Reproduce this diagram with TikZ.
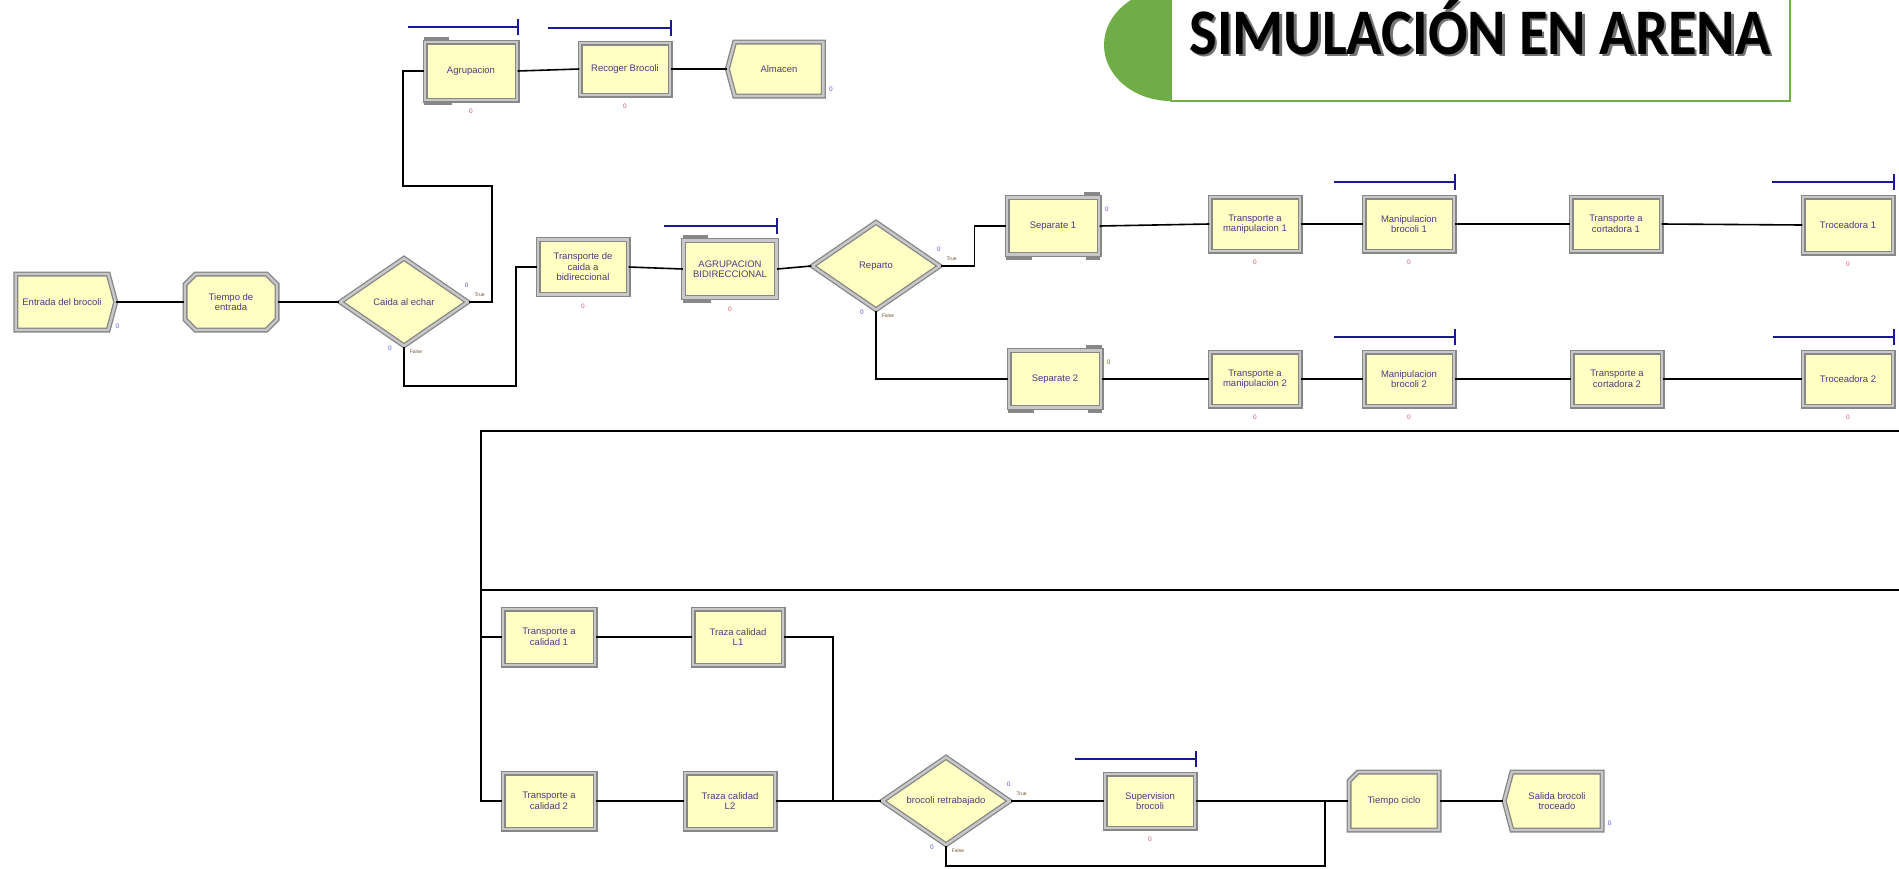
\documentclass[tikz,border=0pt]{standalone}
\usepackage{fontspec}
\setmainfont{Liberation Sans}
\newfontfamily\carlitofont{Carlito}
\usetikzlibrary{shapes.geometric,shapes.misc,shapes.symbols}
\definecolor{boxyel}{RGB}{255,255,195}
\definecolor{bordD}{RGB}{135,135,135}
\definecolor{bordL}{RGB}{200,200,200}
\definecolor{txtc}{RGB}{85,55,130}
\definecolor{cntred}{RGB}{215,90,110}
\definecolor{cntblue}{RGB}{90,90,235}
\definecolor{resblue}{RGB}{25,25,150}
\definecolor{tgreen}{RGB}{112,173,71}
\definecolor{tflab}{RGB}{110,80,40}
\newcommand\mkresbar[2]{%
  \draw[resbar] ([xshift=-#2pt,yshift=14pt]#1.north east) -- ([yshift=14pt]#1.north east);
  \draw[resbar] ([yshift=6pt]#1.north east) -- ([yshift=22pt]#1.north east);}
% stepped border of Batch modules
\newcommand\mkbatch[1]{%
  \fill[bordD] ([yshift=1pt]#1.north west) rectangle ([xshift=25pt,yshift=4.5pt]#1.north west);
  \fill[bordD] ([yshift=-1pt]#1.south west) rectangle ([xshift=28pt,yshift=-4.5pt]#1.south west);}
% stepped border of Separate modules
\newcommand\mkseparate[1]{%
  \fill[bordD] ([yshift=1pt]#1.north east) rectangle ([xshift=-16pt,yshift=4.5pt]#1.north east);
  \fill[bordD] ([yshift=-1pt]#1.south west) rectangle ([xshift=26pt,yshift=-4.5pt]#1.south west);
  \fill[bordD] ([yshift=-1pt]#1.south east) rectangle ([xshift=-14pt,yshift=-4.5pt]#1.south east);}
\begin{document}
\begin{tikzpicture}[x=1pt,y=-1pt,
  mod/.style={draw=bordD, double=bordL, double distance=2.4pt, line width=1.3pt,
    fill=boxyel, text=txtc, font=\fontsize{9.5}{10.5}\selectfont, align=center, inner sep=1pt},
  procbox/.style={mod, rectangle, minimum width=90pt, minimum height=54pt},
  decbox/.style={mod, diamond, minimum width=128pt, minimum height=88pt, inner sep=0pt},
  createbox/.style={mod, signal, signal to=east, signal pointer angle=150, minimum width=100pt, minimum height=56pt},
  dispbox/.style={mod, signal, signal to=west, signal pointer angle=150, minimum width=96pt, minimum height=54pt},
  delaybox/.style={mod, chamfered rectangle, chamfered rectangle xsep=7pt, minimum width=92pt, minimum height=56pt},
  recbox/.style={mod, chamfered rectangle, chamfered rectangle corners=north west, chamfered rectangle xsep=10pt, minimum width=90pt, minimum height=58pt},
  conn/.style={line width=1.6pt, black},
  bigline/.style={line width=1.4pt, black},
  resbar/.style={line width=1.8pt, resblue},
  cnt/.style={font=\fontsize{6.5}{6.5}\selectfont, inner sep=0pt},
  cr/.style={cnt, text=cntred},
  cb/.style={cnt, text=cntblue},
  tf/.style={font=\fontsize{5}{5}\selectfont, inner sep=0pt, text=tflab}]
\clip (0,0) rectangle (1899,868);
\path[use as bounding box, fill=white] (0,0) rectangle (1899,868);

% title
\fill[tgreen] (1171,45) ellipse [x radius=67, y radius=56];
\draw[tgreen, line width=1.6pt, fill=white] (1171,-10) rectangle (1790,101);
\node[anchor=base, xscale=0.9, text=black!55, font=\fontsize{65}{70}\selectfont\carlitofont\bfseries] (titsh) at (1482.5,56.5) {SIMULACIÓN EN ARENA};
\node[anchor=base, xscale=0.9, text=black, font=\fontsize{65}{70}\selectfont\carlitofont\bfseries] (tit) at (1480,54) {SIMULACIÓN EN ARENA};

% row A
\node[createbox] (ent) at (62,302) {Entrada del brocoli};
\node[delaybox] (tde) at (231,302) {Tiempo de\\entrada};
\node[decbox] (caida) at (404,302) {Caida al echar};
\node[procbox, minimum width=92pt, minimum height=58pt] (agr) at (471,71) {Agrupacion};
\node[procbox, minimum height=52pt] (rec) at (625,69) {Recoger Brocoli};
\node[dispbox] (alm) at (779,69) {Almacen};
\node[procbox, minimum height=55pt] (tcb) at (583,267) {Transporte de\\caida a\\bidireccional};
\node[procbox, minimum width=93pt, minimum height=57pt] (agb) at (730,269) {AGRUPACION\\BIDIRECCIONAL};
\node[decbox] (rep) at (876,266) {Reparto};
\node[procbox, minimum width=92pt, minimum height=57pt] (sep1) at (1053,226) {Separate 1};
\node[procbox, minimum width=92pt, minimum height=57pt] (sep2) at (1055,379) {Separate 2};
\node[procbox] (tm1) at (1255,224) {Transporte a\\manipulacion 1};
\node[procbox] (tm2) at (1255,379) {Transporte a\\manipulacion 2};
\node[procbox] (mb1) at (1409,224) {Manipulacion\\brocoli 1};
\node[procbox] (mb2) at (1409,379) {Manipulacion\\brocoli 2};
\node[procbox] (tc1) at (1616,224) {Transporte a\\cortadora 1};
\node[procbox] (tc2) at (1617,379) {Transporte a\\cortadora 2};
\node[procbox, minimum height=56pt] (tr1) at (1848,225) {Troceadora 1};
\node[procbox] (tr2) at (1848,379) {Troceadora 2};

% lower section
\node[procbox, minimum width=92pt, minimum height=56pt] (tca1) at (549,637) {Transporte a\\calidad 1};
\node[procbox, minimum width=92pt, minimum height=56pt] (tca2) at (549,801) {Transporte a\\calidad 2};
\node[procbox, minimum height=56pt] (tl1) at (738,637) {Traza calidad\\L1};
\node[procbox, minimum height=56pt] (tl2) at (730,801) {Traza calidad\\L2};
\node[decbox] (rr) at (946,801) {brocoli retrabajado};
\node[procbox] (sup) at (1150,801) {Supervision\\brocoli};
\node[recbox] (tcic) at (1394,801) {Tiempo ciclo};
\node[dispbox, minimum width=98pt, minimum height=58pt] (sal) at (1557,801) {Salida brocoli\\troceado};

% module details
\mkbatch{agr}
\mkbatch{agb}
\mkseparate{sep1}
\mkseparate{sep2}

% resource bars
\mkresbar{agr}{110}
\mkresbar{rec}{123}
\mkresbar{agb}{113}
\mkresbar{mb1}{121}
\mkresbar{mb2}{121}
\mkresbar{tr1}{122}
\mkresbar{tr2}{121}
\mkresbar{sup}{121}

% coordinates for routing
\coordinate (t1) at (492,186);
\coordinate (t2) at (403,186);
\coordinate (f1) at (516,386);
\coordinate (e1) at (1899,431);
\coordinate (k1) at (481,431);
\coordinate (e2) at (1899,590);
\coordinate (k2) at (481,590);
\coordinate (m1) at (833,801);
\coordinate (j1) at (1325,801);
\coordinate (j2) at (1325,866);

% connectors
\draw[conn] (ent.east) -- (tde.west);
\draw[conn] (tde.east) -- (caida.west);
\draw[conn] (caida.east) -| (t1) -- (t2) |- (agr.west);
\draw[conn] (caida.south) |- (f1) |- (tcb.west);
\draw[conn] (agr.east) -- (rec.west);
\draw[conn] (rec.east) -- (alm.west);
\draw[conn] (tcb.east) -- (agb.west);
\draw[conn] (agb.east) -- (rep.west);
\draw[conn] (rep.east) -- ++(34,0) |- (sep1.west);
\draw[conn] (rep.south) |- (sep2.west);
\draw[conn] (sep1.east) -- (tm1.west);
\draw[conn] (tm1.east) -- (mb1.west);
\draw[conn] (mb1.east) -- (tc1.west);
\draw[conn] (tc1.east) -- (tr1.west);
\draw[conn] (sep2.east) -- (tm2.west);
\draw[conn] (tm2.east) -- (mb2.west);
\draw[conn] (mb2.east) -- (tc2.west);
\draw[conn] (tc2.east) -- (tr2.west);
\draw[bigline] (e1) -- (k1) |- (tca2.west);
\draw[bigline] (e2) -- (k2);
\draw[bigline] (k2) |- (tca1.west);
\draw[conn] (tca1.east) -- (tl1.west);
\draw[conn] (tca2.east) -- (tl2.west);
\draw[conn] (tl1.east) -| (m1);
\draw[conn] (tl2.east) -- (m1) -- (rr.west);
\draw[conn] (rr.east) -- (sup.west);
\draw[conn] (sup.east) -- (tcic.west);
\draw[conn] (rr.south) |- (j2) -- (j1);
\draw[conn] (tcic.east) -- (sal.west);

% counters
\node[cb] (ent-c) at ([xshift=1pt,yshift=-24pt]ent.east) {0};
\node[cb] (caida-ct) at ([xshift=-2pt,yshift=17pt]caida.east) {0};
\node[cb] (caida-cf) at ([xshift=-14pt,yshift=-2pt]caida.south) {0};
\node[tf] (caida-t) at ([xshift=11pt,yshift=7pt]caida.east) {True};
\node[tf] (caida-f) at ([xshift=12pt,yshift=-5pt]caida.south) {False};
\node[cb] (rep-ct) at ([xshift=-2pt,yshift=17pt]rep.east) {0};
\node[cb] (rep-cf) at ([xshift=-14pt,yshift=-2pt]rep.south) {0};
\node[tf] (rep-t) at ([xshift=11pt,yshift=7pt]rep.east) {True};
\node[tf] (rep-f) at ([xshift=12pt,yshift=-5pt]rep.south) {False};
\node[cb] (rr-ct) at ([xshift=-2pt,yshift=17pt]rr.east) {0};
\node[cb] (rr-cf) at ([xshift=-14pt,yshift=-2pt]rr.south) {0};
\node[tf] (rr-t) at ([xshift=11pt,yshift=7pt]rr.east) {True};
\node[tf] (rr-f) at ([xshift=12pt,yshift=-5pt]rr.south) {False};
\node[cr] (agr-c) at ([yshift=-11pt]agr.south) {0};
\node[cr] (rec-c) at ([yshift=-11pt]rec.south) {0};
\node[cb] (alm-c) at ([xshift=7pt,yshift=6pt]alm.south east) {0};
\node[cr] (tcb-c) at ([yshift=-11pt]tcb.south) {0};
\node[cr] (agb-c) at ([yshift=-11pt]agb.south) {0};
\node[cb] (sep1-c) at ([xshift=7pt,yshift=-12pt]sep1.north east) {0};
\node[cb] (sep2-c) at ([xshift=7pt,yshift=-12pt]sep2.north east) {0};
\node[cr] (tm1-c) at ([yshift=-11pt]tm1.south) {0};
\node[cr] (tm2-c) at ([yshift=-11pt]tm2.south) {0};
\node[cr] (mb1-c) at ([yshift=-11pt]mb1.south) {0};
\node[cr] (mb2-c) at ([yshift=-11pt]mb2.south) {0};
\node[cr] (tr1-c) at ([yshift=-11pt]tr1.south) {0};
\node[cr] (tr2-c) at ([yshift=-11pt]tr2.south) {0};
\node[cr] (sup-c) at ([yshift=-11pt]sup.south) {0};
\node[cb] (sal-c) at ([xshift=7pt,yshift=6pt]sal.south east) {0};
\end{tikzpicture}
\end{document}
